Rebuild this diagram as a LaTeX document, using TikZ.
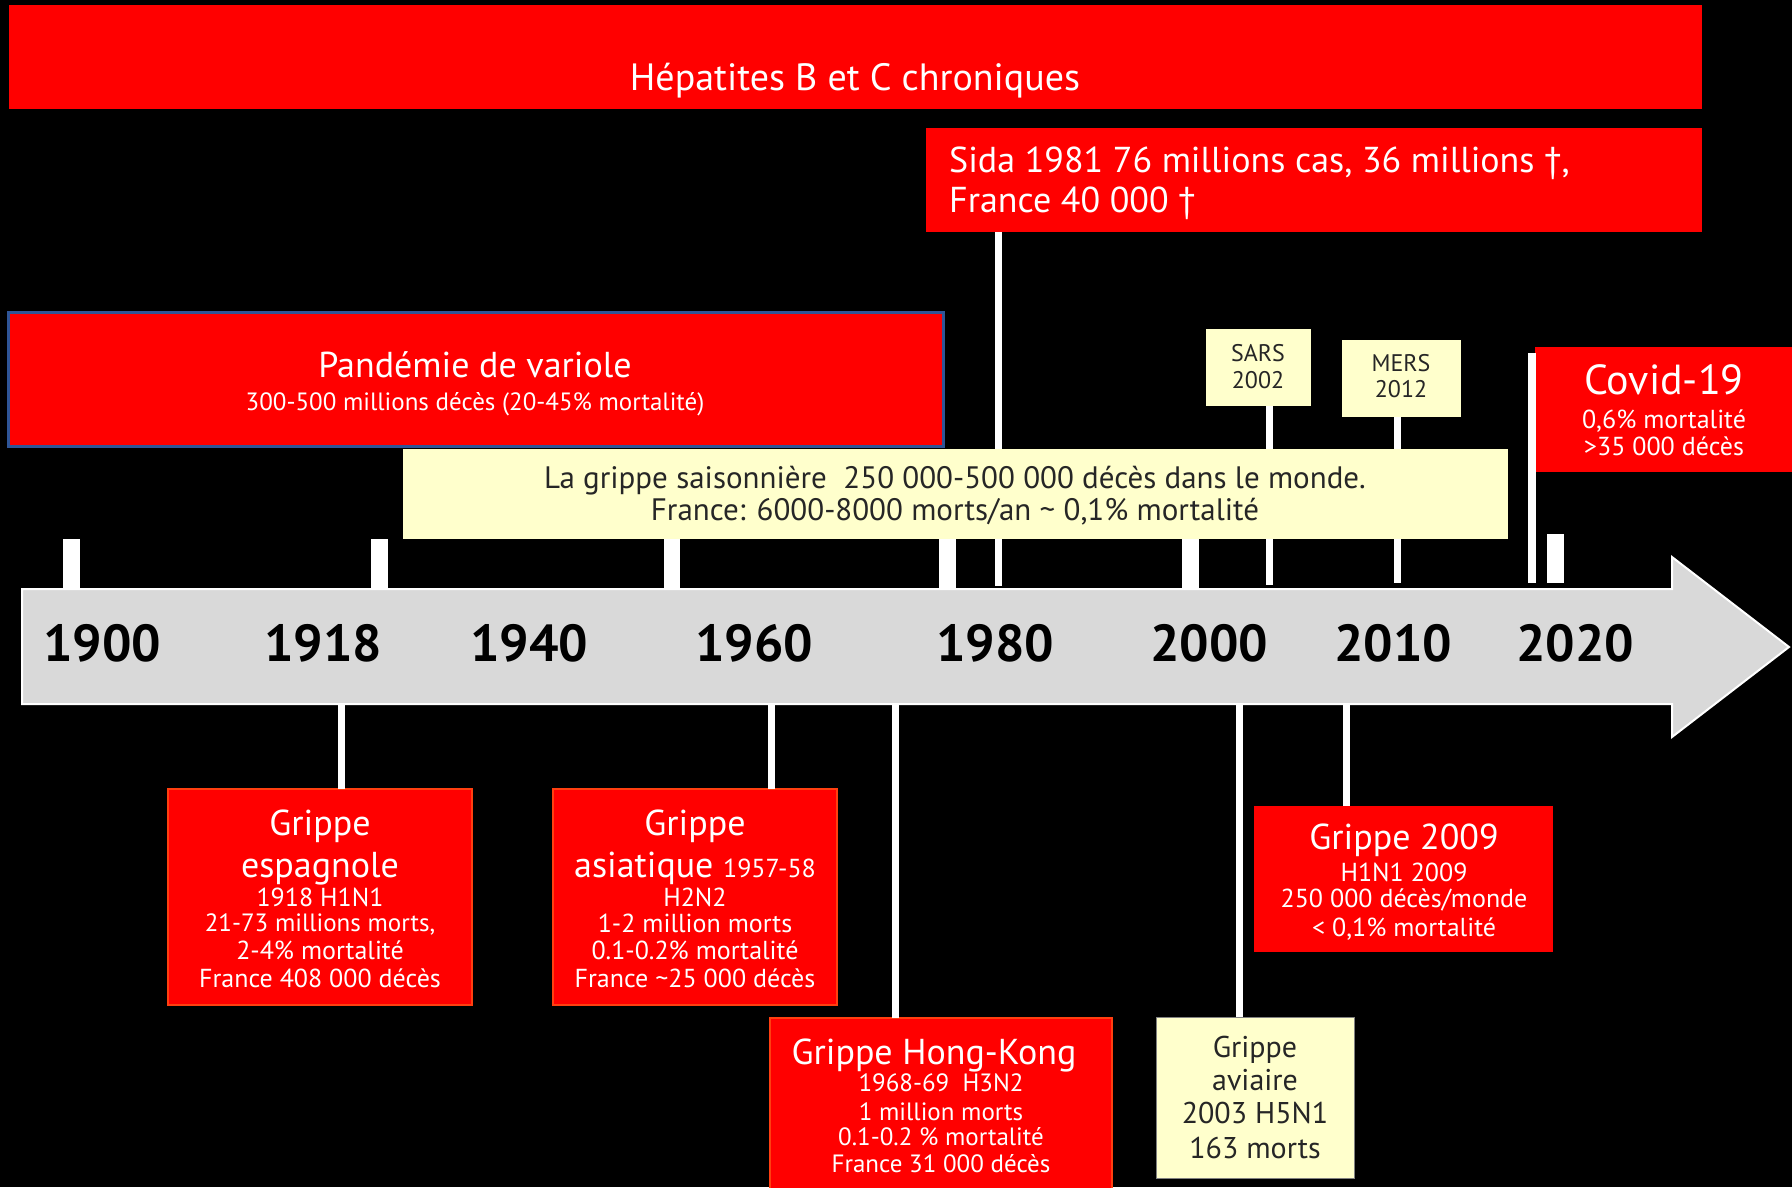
\documentclass[tikz,border=0pt]{standalone}
\usepackage{fontspec}
\setmainfont{PT Sans}
\definecolor{bred}{HTML}{FF0000}
\definecolor{pale}{HTML}{FFFFCC}
\definecolor{axisgray}{HTML}{D9D9D9}
\definecolor{navy}{HTML}{2F5597}
\definecolor{orng}{HTML}{FF3F10}
\definecolor{ink}{HTML}{262626}
\begin{document}
\begin{tikzpicture}[x=1pt,y=-1pt,
  box/.style={inner sep=0pt,outer sep=0pt,anchor=north west,minimum width=#1},
  redbox/.style={box=#1,fill=bred},
  palebox/.style={box=#1,fill=pale},
  txt/.style={font=\fontsize{#1}{#1}\selectfont,inner sep=0pt,text height={0.7*#1pt},text depth=0pt},
  wt/.style={txt=#1,text=white},
  dt/.style={txt=#1,text=ink},
  yr/.style={font=\fontsize{52}{52}\selectfont\bfseries,inner sep=0pt,text=black,text height=36pt,text depth=0pt},
  conn/.style={draw=white,line width=7pt},
  tick/.style={fill=white}]
\useasboundingbox (0,0) rectangle (1792,1187);
\fill[black] (0,0) rectangle (1792,1187);

% connector end points
\coordinate (sidaEnd) at (998,586);
\coordinate (sarsEnd) at (1269,585);
\coordinate (mersEnd) at (1397,583);
\coordinate (covTop) at (1532,353);
\coordinate (covEnd) at (1532,583);
\coordinate (aEsp) at (341,704);
\coordinate (aAsia) at (771,704);
\coordinate (aHK) at (895,704);
\coordinate (aAvi) at (1239,704);
\coordinate (a09) at (1346,704);

% ticks
\fill[tick] (63,539) rectangle (80,588);
\fill[tick] (371,539) rectangle (388,588);
\fill[tick] (664,539) rectangle (680,588);
\fill[tick] (939,539) rectangle (956,588);
\fill[tick] (1182,539) rectangle (1199,588);
\fill[tick] (1547,534) rectangle (1564,583);

% axis arrow
\fill[axisgray,draw=white,line width=2pt] (22,589) -- (1672,589) -- (1672,557) -- (1789,647) -- (1672,737) -- (1672,704) -- (22,704) -- cycle;

% boxes
\node[redbox=1693pt,minimum height=104pt] (hep) at (9,5) {};
\node[redbox=776pt,minimum height=104pt] (sida) at (926,128) {};
\node[palebox=105pt,minimum height=77pt] (sars) at (1206,329) {};
\node[palebox=119pt,minimum height=77pt] (mers) at (1342,340) {};
\node[redbox=257pt,minimum height=125pt] (covid) at (1535,347) {};
\node[redbox=304pt,minimum height=216pt,draw=orng,line width=1.5pt] (esp) at (168,789) {};
\node[redbox=284pt,minimum height=216pt,draw=orng,line width=1.5pt] (asia) at (553,789) {};
\node[redbox=342pt,minimum height=172pt,draw=orng,line width=1.5pt] (hk) at (770,1018) {};
\node[palebox=198pt,minimum height=161pt,draw=gray,line width=1pt] (avi) at (1156,1017) {};
\node[redbox=299pt,minimum height=146pt] (g09) at (1254,806) {};

\draw[conn] (sida.south -| sidaEnd) -- (sidaEnd);
\draw[conn] (sars.south -| sarsEnd) -- (sarsEnd);
\draw[conn] (mers.south -| mersEnd) -- (mersEnd);
\draw[draw=white,line width=8pt] (covTop) -- (covEnd);
\draw[conn] (aEsp) -- (aEsp |- esp.north);
\draw[conn] (aAsia) -- (aAsia |- asia.north);
\draw[conn] (aHK) -- (aHK |- hk.north);
\draw[conn] (aAvi) -- (aAvi |- avi.north);
\draw[conn] (a09) -- (a09 |- g09.north);

% boxes over connectors
\node[redbox=935pt,minimum height=134pt,draw=navy,line width=3pt] (pand) at (8,312) {};
\node[palebox=1105pt,minimum height=90pt] (grip) at (403,449) {};

% texts
\node[wt=38] (hepT) at (855,77) {Hépatites B et C chroniques};
\node[wt=36,anchor=west] (sidaT1) at (949,160) {Sida 1981 76 millions cas, 36 millions †,};
\node[wt=36,anchor=west] (sidaT2) at (949,200) {France 40 000 †};
\node[wt=36] (pandT1) at (475,365) {Pandémie de variole};
\node[wt=25] (pandT2) at (475,402) {300-500 millions décès (20-45\% mortalité)};
\node[dt=31] (gripT1) at (955,478) {La grippe saisonnière\ \ 250 000-500 000 décès dans le monde.};
\node[dt=31] (gripT2) at (955,510) {France: 6000-8000 morts/an \textasciitilde{} 0,1\% mortalité};
\node[dt=24] (sarsT1) at (1258,353) {SARS};
\node[dt=24] (sarsT2) at (1258,380) {2002};
\node[dt=24] (mersT1) at (1401,363) {MERS};
\node[dt=24] (mersT2) at (1401,389) {2012};
\node[wt=42] (covT1) at (1664,380) {Covid-19};
\node[wt=26] (covT2) at (1664,419) {0,6\% mortalité};
\node[wt=26] (covT3) at (1664,446) {>35 000 décès};

\node[yr] (y1900) at (102,643) {1900};
\node[yr] (y1918) at (323,643) {1918};
\node[yr] (y1940) at (529,643) {1940};
\node[yr] (y1960) at (754,643) {1960};
\node[yr] (y1980) at (995,643) {1980};
\node[yr] (y2000) at (1209,643) {2000};
\node[yr] (y2010) at (1393,643) {2010};
\node[yr] (y2020) at (1575,643) {2020};

\node[wt=36] (espT1) at (320,823) {Grippe};
\node[wt=36] (espT2) at (320,865) {espagnole};
\node[wt=26] (espT3) at (320,897) {1918 H1N1};
\node[wt=25] (espT4) at (320,923) {21-73 millions morts,};
\node[wt=26] (espT5) at (320,950) {2-4\% mortalité};
\node[wt=26] (espT6) at (320,978) {France 408 000 décès};

\node[wt=36] (asiaT1) at (695,823) {Grippe};
\node[wt=36] (asiaT2) at (695,865) {asiatique {\fontsize{26}{26}\selectfont 1957-58}};
\node[wt=26] (asiaT3) at (695,897) {H2N2};
\node[wt=26] (asiaT4) at (695,923) {1-2 million morts};
\node[wt=26] (asiaT5) at (695,950) {0.1-0.2\% mortalité};
\node[wt=26] (asiaT6) at (695,978) {France \textasciitilde 25 000 décès};

\node[wt=36] (hkT1) at (934,1052) {Grippe Hong-Kong};
\node[wt=25] (hkT2) at (941,1083) {1968-69\ \ H3N2};
\node[wt=25] (hkT3) at (941,1112) {1 million morts};
\node[wt=25] (hkT4) at (941,1137) {0.1-0.2 \% mortalité};
\node[wt=25] (hkT5) at (941,1164) {France 31 000 décès};

\node[dt=30] (aviT1) at (1255,1047) {Grippe};
\node[dt=30] (aviT2) at (1255,1080) {aviaire};
\node[dt=30] (aviT3) at (1255,1113) {2003 H5N1};
\node[dt=30] (aviT4) at (1255,1148) {163 morts};

\node[wt=36] (g09T1) at (1404,837) {Grippe 2009};
\node[wt=26] (g09T2) at (1404,872) {H1N1 2009};
\node[wt=26] (g09T3) at (1404,898) {250 000 décès/monde};
\node[wt=26] (g09T4) at (1404,927) {< 0,1\% mortalité};
\end{tikzpicture}
\end{document}
